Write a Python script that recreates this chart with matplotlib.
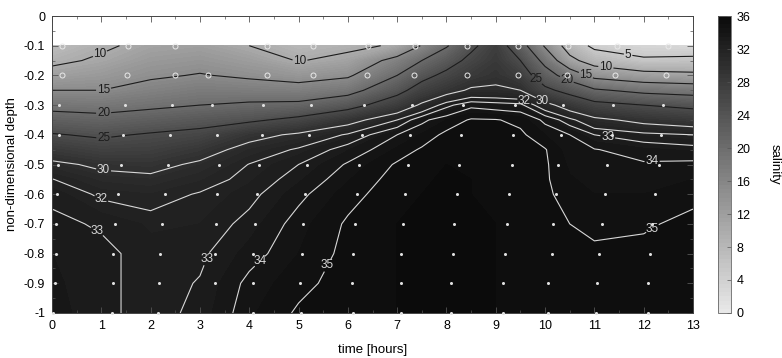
import numpy as np
import matplotlib
matplotlib.use('Agg')
import matplotlib.pyplot as plt
from matplotlib.colors import LinearSegmentedColormap
from matplotlib.ticker import FuncFormatter, MultipleLocator

plt.rcParams['font.family'] = ['Liberation Sans', 'DejaVu Sans']
plt.rcParams['axes.unicode_minus'] = False

# ---------------- data ----------------
grid_times = [0, 1, 2, 3, 4, 5, 6, 7, 7.5, 8, 8.5, 9, 9.5, 10, 10.5, 11, 12, 13]
grid_depths = [-0.1, -0.15, -0.2, -0.25, -0.3, -0.35, -0.4, -0.45, -0.5,
               -0.55, -0.6, -0.7, -0.8, -0.9, -1.0]

sal_t0 = [7, 9.0, 11.7, 15, 18.6, 22.0, 25.3, 28.2, 30.6, 32.05, 32.8, 33.2, 33.5, 33.6, 33.7]
sal_t1 = [9.3, 10.65, 12.8, 15, 18.2, 21.4, 24.4, 27.0, 29.5, 30.8, 31.8, 32.9, 33.2, 33.2, 33.2]
sal_t2 = [11.2, 12.8, 14.4, 16.5, 19.1, 22.3, 25.4, 27.3, 29.2, 30.5, 31.5, 32.4, 32.7, 32.7, 32.7]
sal_t3 = [11.8, 13.5, 15.25, 17.6, 20, 23.3, 26.25, 28.75, 30.45, 31.4, 32.1, 32.5, 32.85, 33.05, 33.2]
sal_t4 = [10, 12.2, 14.3, 17.3, 20.7, 24.3, 29, 31, 32.05, 32.4, 32.75, 33.25, 33.7, 34.2, 34.4]
sal_t5 = [8, 9.8, 13.2, 16.9, 21, 26.1, 30.5, 32.2, 33, 33.4, 33.8, 34.3, 34.5, 34.8, 35.1]
sal_t6 = [9, 11.25, 14.4, 18.3, 23.3, 28.9, 32.2, 33.45, 34.1, 34.45, 34.75, 35.1, 35.2, 35.3, 35.3]
sal_t7 = [10.5, 16.7, 20, 23.6, 27.7, 32, 34, 34.6, 35.1, 35.3, 35.4, 35.5, 35.5, 35.5, 35.5]
sal_t7h = [15.3, 20, 23.6, 27, 30.5, 33.8, 34.55, 35.1, 35.3, 35.4, 35.5, 35.6, 35.6, 35.6, 35.6]
sal_t8 = [19.6, 23, 26.1, 28.9, 32.7, 34.5, 35.2, 35.4, 35.5, 35.6, 35.6, 35.6, 35.6, 35.6, 35.6]
sal_t8h = [24, 26.2, 28.2, 30.4, 33.75, 35.1, 35.3, 35.4, 35.5, 35.5, 35.5, 35.6, 35.6, 35.6, 35.6]
sal_t9 = [27.5, 28.4, 29.3, 30.4, 33.5, 35.05, 35.3, 35.3, 35.3, 35.3, 35.4, 35.5, 35.5, 35.5, 35.5]
sal_t9h = [22, 25, 27.5, 30, 33.3, 34.8, 35.15, 35.2, 35.2, 35.2, 35.2, 35.3, 35.4, 35.4, 35.4]
sal_t10 = [14.5, 18.6, 22.1, 26, 31, 33.8, 34.5, 35.05, 35.1, 35.1, 35.15, 35.2, 35.3, 35.3, 35.3]
sal_t10h = [7.8, 11.25, 17.9, 23.5, 28.5, 32.4, 34, 34.2, 34.4, 34.55, 34.7, 35, 35.2, 35.3, 35.3]
sal_t11 = [4, 7.9, 13.6, 20.6, 26.4, 30.7, 33, 34.05, 34.2, 34.35, 34.5, 34.8, 35.15, 35.25, 35.3]
sal_t12 = [3, 5.6, 11.7, 18.75, 25, 29.2, 32.4, 33.6, 34.1, 34.3, 34.5, 34.9, 35.2, 35.3, 35.3]
sal_t13 = [2.5, 6, 11.1, 18, 23.9, 28.3, 32, 33.4, 34.2, 34.5, 34.8, 35.2, 35.3, 35.3, 35.3]

sample_depths = [-0.1, -0.2, -0.3, -0.4, -0.5, -0.6, -0.7, -0.8, -0.9, -1.0]
cast01 = [0.20, 0.20, 0.14, 0.14, 0.12, 0.10, 0.08, 0.08, 0.06, 0.02]
cast02 = [1.54, 1.52, 1.48, 1.44, 1.40, 1.34, 1.28, 1.24, 1.24, 1.22]
cast03 = [2.49, 2.49, 2.43, 2.39, 2.35, 2.29, 2.23, 2.19, 2.17, 2.15]
cast04 = [np.nan, 3.16, 3.25, 3.35, 3.39, 3.35, 3.33, 3.31, 3.31, np.nan]
cast05 = [4.36, 4.36, 4.28, 4.26, 4.20, 4.16, 4.12, 4.08, 4.08, 4.08]
cast06 = [5.29, 5.29, 5.25, 5.21, 5.17, 5.13, 5.09, 5.07, 5.03, 5.05]
cast07 = [6.41, 6.39, 6.33, 6.29, 6.23, 6.19, 6.15, 6.11, 6.09, 6.11]
cast08 = [7.36, 7.34, 7.30, 7.26, 7.22, 7.16, 7.12, 7.08, 7.08, 7.08]
cast09 = [8.42, 8.42, 8.34, 8.30, 8.26, 8.22, 8.15, 8.13, 8.09, 8.09]
cast10 = [9.45, 9.45, 9.39, 9.35, 9.33, 9.27, 9.23, 9.19, 9.15, 9.15]
cast11 = [10.47, 10.45, 10.37, 10.32, 10.26, 10.22, 10.16, 10.14, 10.06, 10.06]
cast12 = [11.46, 11.42, 11.38, 11.36, 11.26, 11.22, 11.16, 11.10, 11.05, 11.03]
cast13 = [12.49, 12.45, 12.39, 12.35, 12.31, 12.23, 12.17, 12.13, 12.09, 12.09]

dark_levels = [5, 10, 15, 20, 25]
light_levels = [30, 32, 33, 34, 35]
cbar_ticks = [0, 4, 8, 12, 16, 20, 24, 28, 32, 36]
x_ticks = list(range(0, 14))
y_ticks = [0, -0.1, -0.2, -0.3, -0.4, -0.5, -0.6, -0.7, -0.8, -0.9, -1.0]

# ---------------- plot ----------------
salinity = np.column_stack([sal_t0, sal_t1, sal_t2, sal_t3, sal_t4, sal_t5, sal_t6,
                            sal_t7, sal_t7h, sal_t8, sal_t8h, sal_t9, sal_t9h,
                            sal_t10, sal_t10h, sal_t11, sal_t12, sal_t13])
casts = [cast01, cast02, cast03, cast04, cast05, cast06, cast07, cast08,
         cast09, cast10, cast11, cast12, cast13]

fig = plt.figure(figsize=(7.82, 3.58), dpi=100)
ax = fig.add_axes([0.0665, 0.1257, 0.8197, 0.8296])

cmap = LinearSegmentedColormap.from_list('sal', ['#e9e9e9', '#0a0a0a'])
cf = ax.contourf(grid_times, grid_depths, salinity, levels=np.arange(0, 36.01, 0.5),
                 cmap=cmap, vmin=0, vmax=36)
cf.set_edgecolor('face')
cf.set_linewidth(0.3)

cs_dark = ax.contour(grid_times, grid_depths, salinity, levels=dark_levels,
                     colors='#1c1c1c', linewidths=0.8)
cs_light = ax.contour(grid_times, grid_depths, salinity, levels=light_levels,
                      colors='#d8d8d8', linewidths=0.8)

dark_pos = [(1.01, -0.141), (1.05, -0.25), (1.05, -0.333), (1.05, -0.41),
            (5.03, -0.155), (9.76, -0.223), (10.4, -0.226), (10.81, -0.205),
            (11.22, -0.188), (11.66, -0.151)]
light_pos = [(1.05, -0.51), (1.01, -0.613), (0.95, -0.717), (3.08, -0.815),
             (4.14, -0.815), (5.42, -0.828), (9.95, -0.285), (9.6, -0.28),
             (11.26, -0.417), (12.17, -0.488), (12.17, -0.714)]
lab_dark = ax.clabel(cs_dark, manual=dark_pos, fmt='%d', fontsize=8.5, inline=True,
                     inline_spacing=1)
lab_light = ax.clabel(cs_light, manual=light_pos, fmt='%d', fontsize=8.5, inline=True,
                      inline_spacing=1)
for t in list(lab_dark) + list(lab_light):
    t.set_rotation(0)

for c in casts:
    ax.plot(c[:2], sample_depths[:2], 'o', ms=3.6, mfc='none', mec='#e8e8e8', mew=0.7,
            clip_on=False, zorder=5)
    ax.plot(c[2:], sample_depths[2:], 'o', ms=2.2, mfc='#e0e0e0', mec='none',
            clip_on=False, zorder=5)

ax.set_xlim(0, 13)
ax.set_ylim(-1, 0)
ax.set_xticks(x_ticks)
ax.set_yticks(y_ticks)
ax.xaxis.set_minor_locator(MultipleLocator(0.5))
ax.yaxis.set_minor_locator(MultipleLocator(0.05))
ax.yaxis.set_major_formatter(FuncFormatter(lambda v, p: '%g' % round(v, 2)))
ax.tick_params(which='both', direction='in', top=True, right=True, color='#555555',
               labelsize=9, pad=5)
ax.tick_params(which='major', length=4, width=0.6)
ax.tick_params(which='minor', length=2, width=0.5)
for s in ax.spines.values():
    s.set_color('#444444')
    s.set_linewidth(0.7)
ax.set_xlabel('time [hours]', fontsize=9.5, labelpad=9)
ax.set_ylabel('non-dimensional depth', fontsize=9.5, labelpad=4)

cax = fig.add_axes([0.918, 0.1257, 0.0166, 0.8296])
cb = fig.colorbar(cf, cax=cax, ticks=cbar_ticks)
cb.ax.tick_params(direction='in', length=3, width=0.5, labelsize=9, color='#555555', pad=4)
cb.outline.set_edgecolor('#666666')
cb.outline.set_linewidth(0.6)
cb.set_label('salinity', rotation=270, fontsize=9.5, labelpad=22)

fig.savefig('out.png', dpi=100)
